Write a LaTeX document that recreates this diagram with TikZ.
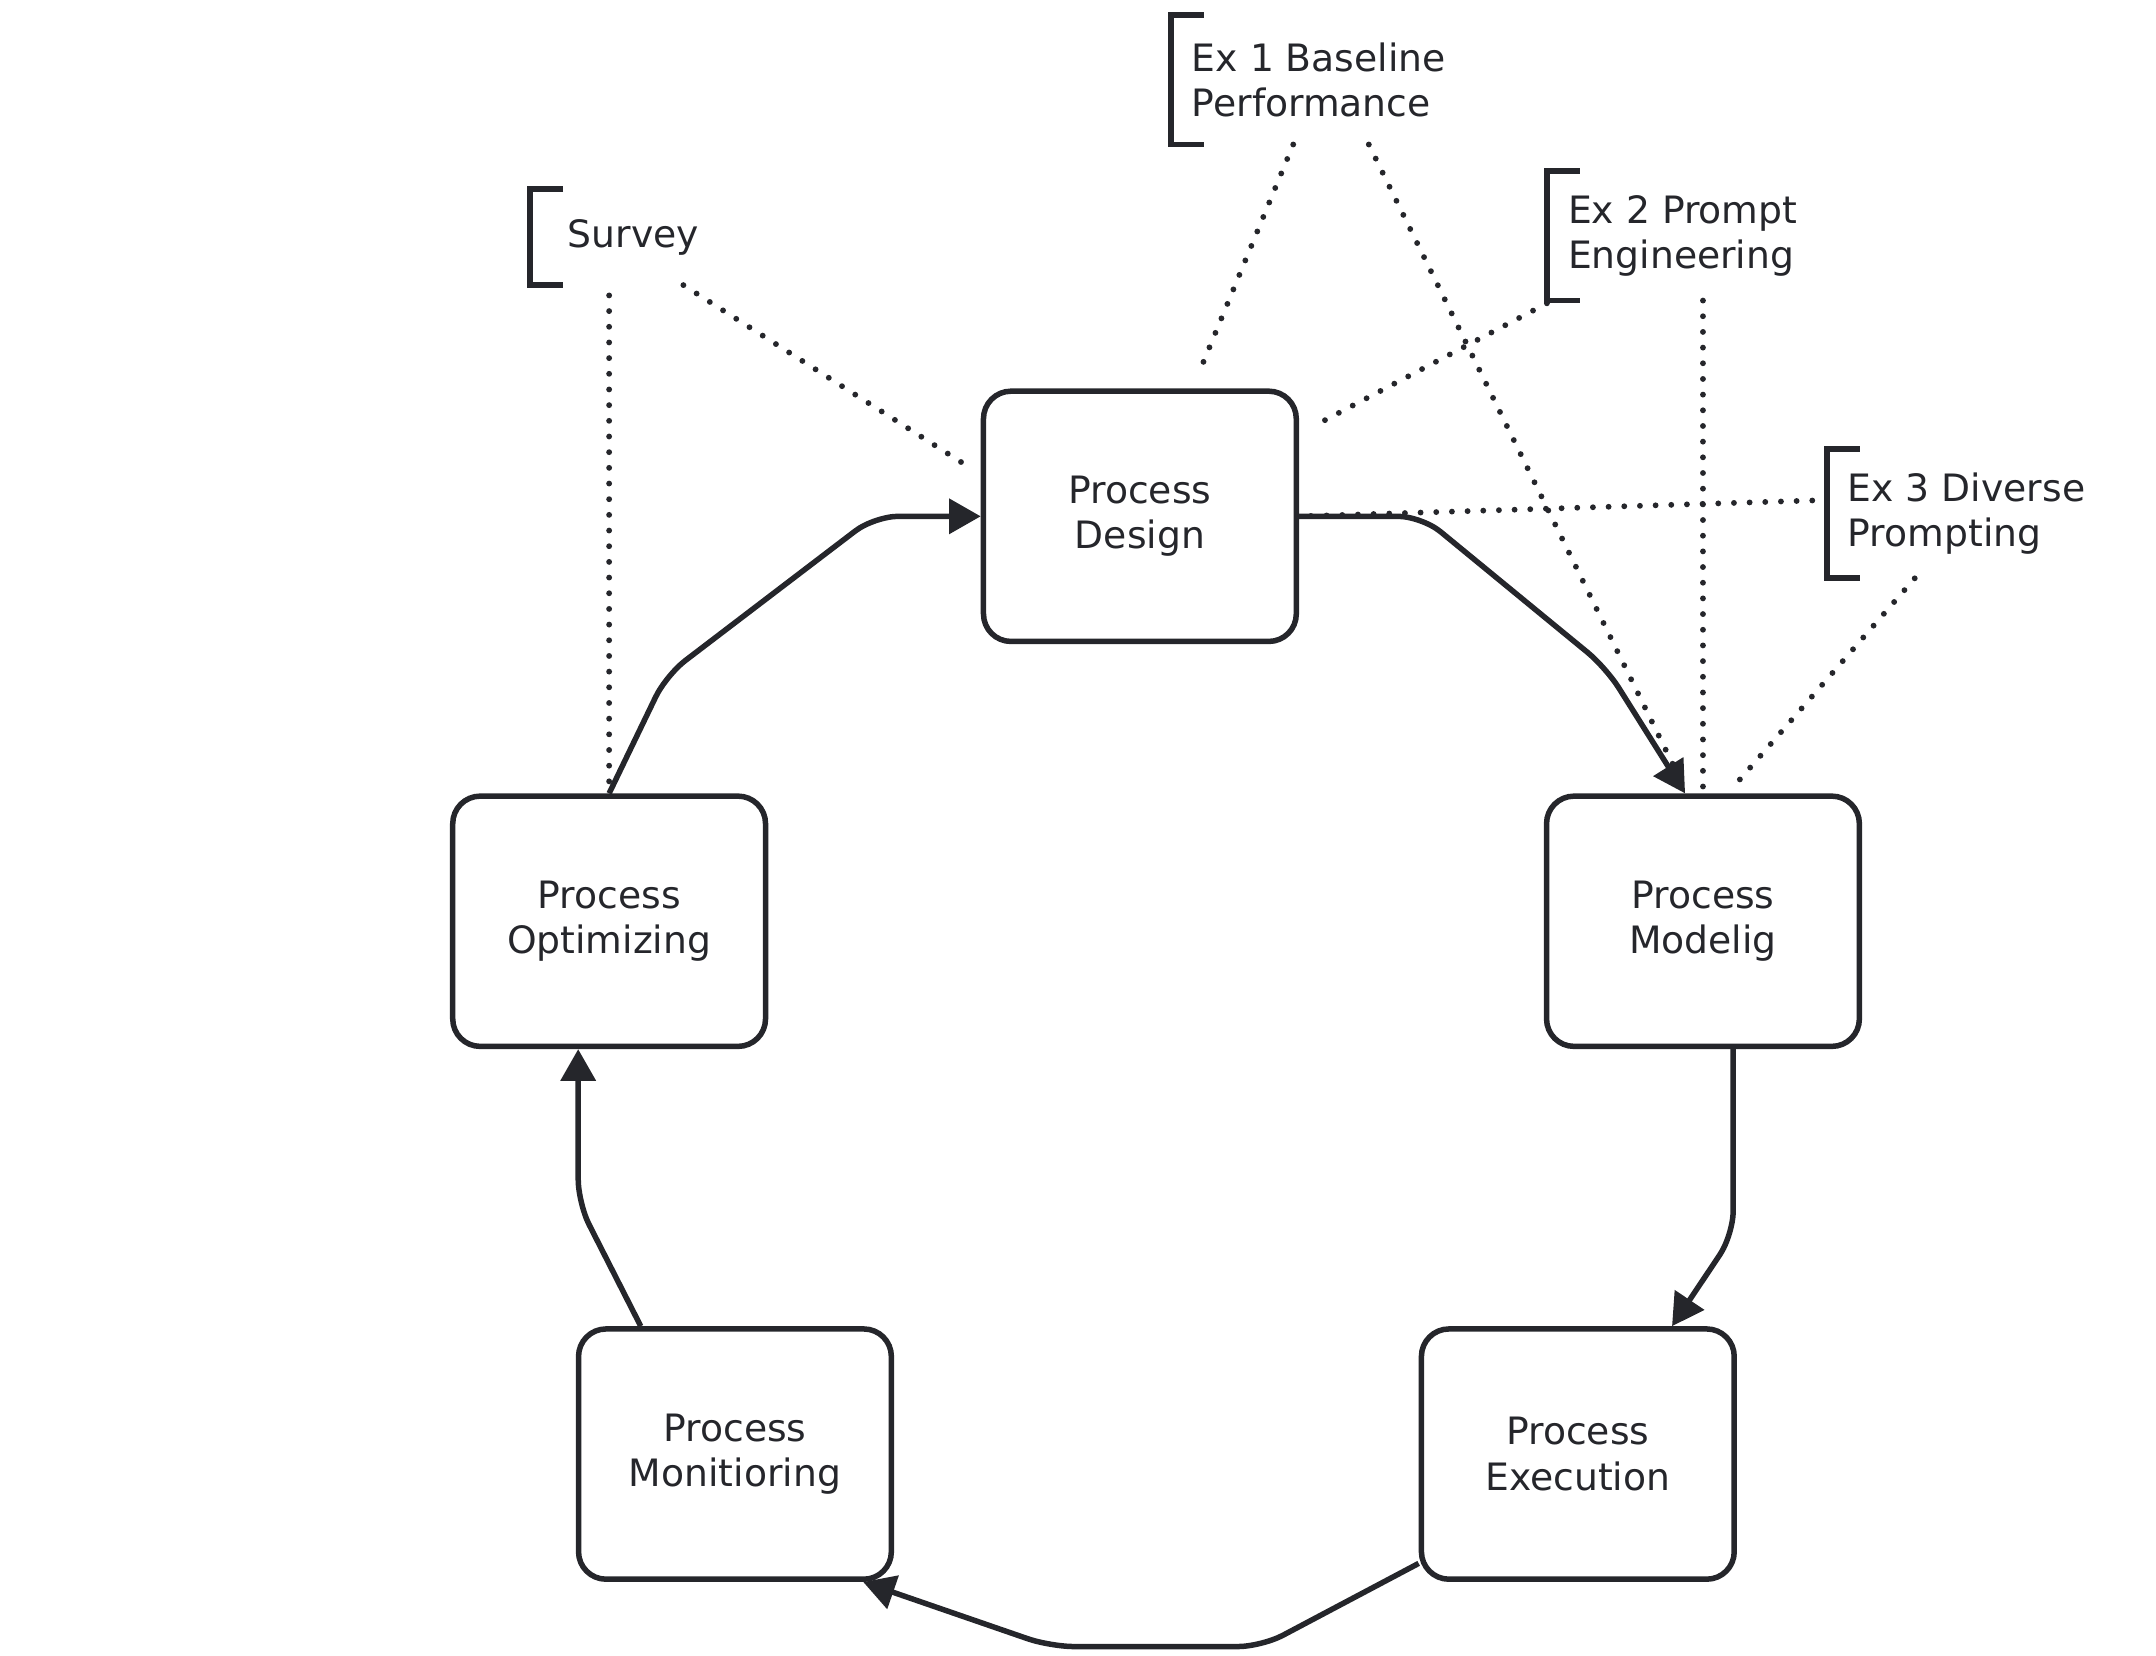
\documentclass[tikz,border=0pt]{standalone}
\usepackage{fontspec}
\setmainfont{DejaVu Sans}
\usetikzlibrary{arrows.meta}
\definecolor{inkgray}{HTML}{25262B}
\newcommand{\cyclefont}{\fontsize{15.6pt}{18.7pt}\selectfont}

\begin{document}
\begin{tikzpicture}[
  stage/.style={rectangle, rounded corners=0.4cm, minimum width=4.55cm, minimum height=3.64cm, draw=inkgray, line width=0.08cm, align=center, text=inkgray, font=\cyclefont},
  note/.style={anchor=west, align=left, inner xsep=0.30cm, inner ysep=0pt, minimum height=1.87cm, text=inkgray, font=\cyclefont},
  brkt/.style={draw=inkgray, line width=0.085cm},
  flow/.style={draw=inkgray, line width=0.08cm, rounded corners=0.35cm, -{Triangle[length=0.46cm, width=0.5cm]}},
  link/.style={draw=inkgray, line width=0.085cm, line cap=round, dash pattern=on 0pt off 0.228cm}
]
\useasboundingbox (0,0) rectangle (31.36,-24.08);

% The five process stages
\node[stage] (design) at (16.58,-7.51) {Process\\Design};
\node[stage] (model) at (24.77,-13.40) {Process\\Modelig};
\node[stage] (exec) at (22.95,-21.15) {Process\\Execution};
\node[stage] (monit) at (10.69,-21.15) {Process\\Monitioring};
\node[stage] (optim) at (8.86,-13.40) {Process\\Optimizing};

% Bracketed annotations
\node[note, minimum height=1.38cm, inner xsep=0.54cm] (survey) at (7.71,-3.45) {Survey};
\node[note] (ex1) at (17.03,-1.16) {Ex 1 Baseline\\Performance};
\node[note] (ex2) at (22.50,-3.43) {Ex 2 Prompt\\Engineering};
\node[note] (ex3) at (26.57,-7.47) {Ex 3 Diverse\\Prompting};
\foreach \n in {survey, ex1, ex2, ex3}
  \draw[brkt] ([xshift=0.48cm]\n.north west) -- (\n.north west) -- (\n.south west) -- ([xshift=0.48cm]\n.south west);

% Cycle arrows
\draw[flow] (optim.north) -- (9.69,-9.82) -- (12.72,-7.51) -- (design.west);
\draw[flow] (design.east) -- (20.68,-7.51) -- (23.36,-9.71) -- ([xshift=-0.26cm]model.north);
\draw[flow] ([xshift=0.44cm]model.south) -- (25.21,-17.96) -- ([xshift=1.37cm]exec.north);
\draw[flow] ([yshift=0.27cm]exec.south west) -- (18.35,-23.95) -- (15.28,-23.95) -- ([xshift=-0.45cm]monit.south east);
\draw[flow] ([xshift=-1.37cm]monit.north) -- (8.41,-17.50) -- ([xshift=-0.45cm]optim.south);

% Dotted links from annotations
\draw[link] ([xshift=1.15cm,yshift=-0.15cm]survey.south west) -- ([yshift=0.1cm]optim.north);
\draw[link] ([xshift=2.23cm]survey.south west) -- ([xshift=-0.13cm,yshift=0.69cm]design.west);
\draw[link] ([xshift=1.78cm]ex1.south west) -- ([xshift=0.86cm,yshift=0.23cm]design.north);
\draw[link] ([xshift=2.88cm]ex1.south west) -- ([xshift=-0.27cm,yshift=0.08cm]model.north);
\draw[link] ([yshift=-0.04cm]ex2.south west) -- ([xshift=0.19cm,yshift=1.3cm]design.east);
\draw[link] ([xshift=2.27cm]ex2.south west) -- ([yshift=0.08cm]model.north);
\draw[link] ([xshift=-0.21cm,yshift=0.19cm]ex3.west) -- (design.east);
\draw[link] ([xshift=1.28cm]ex3.south west) -- ([xshift=0.43cm,yshift=0.08cm]model.north);
\end{tikzpicture}
\end{document}
